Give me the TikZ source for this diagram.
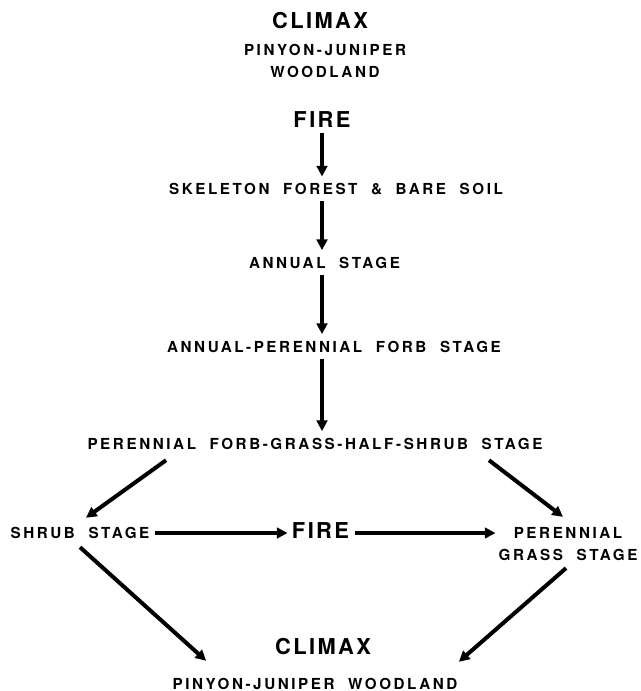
\documentclass[tikz,border=0pt]{standalone}
\usepackage{fontspec}
\usetikzlibrary{arrows.meta,calc}
\newfontfamily\smallfont[LetterSpace=17,WordSpace=2]{TeX Gyre Heros}
\newfontfamily\bigfont[LetterSpace=11]{TeX Gyre Heros}

\tikzset{every picture/.style={line width=0.75pt}}
\tikzset{
  lbl/.style={inner sep=0pt, align=center, font=\smallfont\bfseries\fontsize{11.4}{16.5}\selectfont},
  biglbl/.style={inner sep=0pt, font=\bigfont\bfseries\fontsize{16.4}{18}\selectfont},
  arr/.style={line width=3pt, -{Triangle[length=8pt,width=8pt]}, shorten <=4pt, shorten >=5pt}
}

\begin{document}
\begin{tikzpicture}[x=0.75pt,y=0.75pt,yscale=-1,xscale=1]
\useasboundingbox (0,0) rectangle (640,691);

% Text Node
\node [biglbl] (climaxtop) at (320,21) {CLIMAX};
% Text Node
\node [lbl] (pjtop) at (325,60.5) {PINYON-JUNIPER\\WOODLAND};
% Text Node
\node [biglbl] (firetop) at (322,119.5) {FIRE};
% Text Node
\node [lbl] (skeleton) at (336,189.5) {SKELETON FOREST \& BARE SOIL};
% Text Node
\node [lbl] (annual) at (324.5,263) {ANNUAL STAGE};
% Text Node
\node [lbl] (annper) at (334,347) {ANNUAL-PERENNIAL FORB STAGE};
% Text Node
\node [lbl] (forbgrass) at (315,444) {PERENNIAL FORB-GRASS-HALF-SHRUB STAGE};
% Text Node
\node [lbl] (shrub) at (80,533) {SHRUB STAGE};
% Text Node
\node [biglbl] (firemid) at (320.5,531) {FIRE};
% Text Node
\node [lbl] (pgrass) at (568,544) {PERENNIAL\\GRASS STAGE};
% Text Node
\node [biglbl] (climaxbot) at (323,647) {CLIMAX};
% Text Node
\node [lbl] (pjbot) at (315,684) {PINYON-JUNIPER WOODLAND};

%Straight Lines
\draw [arr] (firetop.south) -- (firetop.south |- skeleton.north);
\draw [arr] (skeleton.south -| firetop) -- (annual.north -| firetop);
\draw [arr] (annual.south -| firetop) -- (annper.north -| firetop);
\draw [arr] (annper.south -| firetop) -- (forbgrass.north -| firetop);
%Straight Lines
\draw [arr, shorten <=0pt, shorten >=0pt] ($(forbgrass.south west)+(79,10)$) -- ($(shrub.north)+(6,-9)$);
\draw [arr, shorten <=0pt, shorten >=0pt] ($(forbgrass.south east)+(-54,10)$) -- ($(pgrass.north)+(-5,-10)$);
%Straight Lines
\draw [arr, shorten >=3pt] (shrub.east) -- (firemid.west |- shrub.east);
\draw [arr, shorten >=2pt] (firemid.east |- shrub.east) -- (pgrass.west |- shrub.east);
%Straight Lines
\draw [arr, shorten <=0pt, shorten >=0pt] ($(shrub.south)+(0,8)$) -- ($(pjbot.north west)+(34,-17)$);
\draw [arr, shorten <=0pt, shorten >=0pt] ($(pgrass.south)+(-2,7)$) -- ($(pjbot.north east)+(1,-16)$);

\end{tikzpicture}
\end{document}
